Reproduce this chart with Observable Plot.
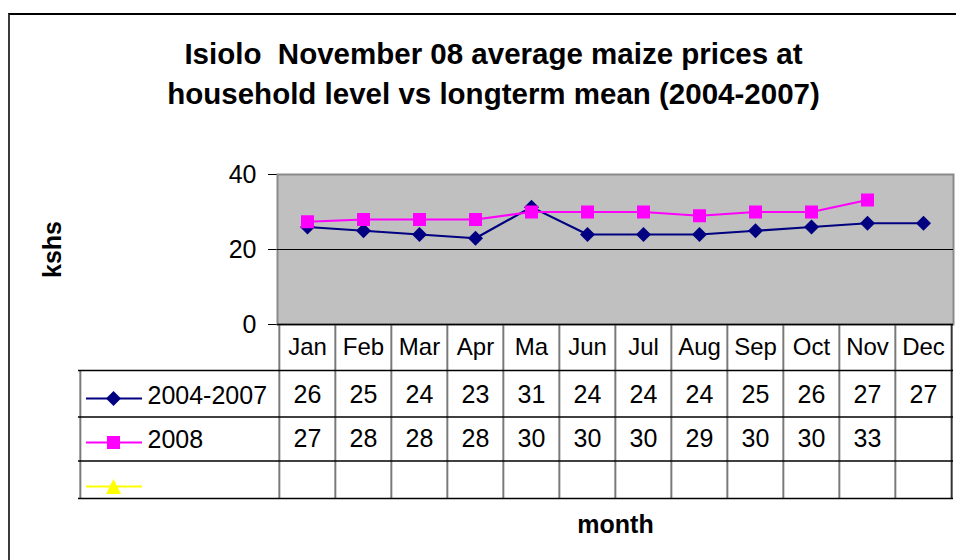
<!DOCTYPE html>
<html>
<head>
<meta charset="utf-8">
<script src="https://cdn.jsdelivr.net/npm/d3@7"></script>
<script src="https://cdn.jsdelivr.net/npm/@observablehq/plot@0.6"></script>
<style>
html, body { margin: 0; padding: 0; background: #fff; }
#wrap { position: relative; width: 956px; height: 560px; overflow: hidden; }
#wrap svg { position: absolute; left: 0; top: 0; }
#box { position: absolute; left: 8px; top: 13px; width: 980px; height: 600px;
       border-top: 2px solid #000; border-left: 2px solid #3a3a3a; pointer-events: none; z-index: 2; }
</style>
</head>
<body>
<div id="wrap"><div id="box"></div></div>
<script>
// ---- data ----
const months = ["Jan", "Feb", "Mar", "Apr", "Ma", "Jun", "Jul", "Aug", "Sep", "Oct", "Nov", "Dec"];
const mean0407 = [26, 25, 24, 23, 31.3, 24, 24, 24, 25, 26, 27, 27];
const y2008 = [27.4, 28, 28, 28, 30, 30, 30, 29, 30, 30, 33.2, null];
const seriesNames = ["2004-2007", "2008", ""];
const seriesColors = ["#000080", "#ff00ff", "#ffff00"];
const yTicks = [0, 20, 40];
const titleLines = ["Isiolo  November 08 average maize prices at", "household level vs longterm mean (2004-2007)"];
const yLabel = "kshs";
const xLabel = "month";

// ---- layout ----
const W = 956, H = 560, ML = 277, MR = 3, MT = 174, MB = 236;
const bw = (W - ML - MR) / months.length;
const fmt = d3.format(".0f");
const rows = months.map((m, i) => ({month: m, a: mean0407[i], b: y2008[i]}));

function sym(fn) { return {draw(ctx, size) { const h = Math.sqrt(size / Math.PI); fn(ctx, h); }}; }
const diamond = sym((c, h) => { c.moveTo(0, -h); c.lineTo(h, 0); c.lineTo(0, h); c.lineTo(-h, 0); c.closePath(); });
const square = sym((c, h) => { c.rect(-h, -h, 2 * h, 2 * h); });
const triangle = sym((c, h) => { c.moveTo(0, -h); c.lineTo(h, h); c.lineTo(-h, h); c.closePath(); });

const font = "'Liberation Sans', Arial, Helvetica, sans-serif";
const gridGray = "#7a7a7a";
const rowLines = [46, 92.5, 136.5, 174];
const legendDy = [74, 118, 162];
const legendTextDy = [71, 115];
const symbols = [diamond, square, triangle];
const symbolR = [7.5, 6.5, 7.5];
const mid = {lineAnchor: "middle"};

const marks = [
  Plot.frame({fill: "#c0c0c0", stroke: "#8a8a8a", strokeWidth: 2}),
  Plot.ruleY([20], {stroke: "#000", strokeWidth: 1}),
  // table grid
  Plot.ruleX(months, {x: d => d, dx: -bw / 2, insetTop: 150, insetBottom: -174, stroke: gridGray, strokeWidth: 2}),
  Plot.ruleX([months[months.length - 1]], {x: d => d, dx: bw / 2, insetTop: 150, insetBottom: -174, stroke: "#333", strokeWidth: 2}),
  Plot.ruleX([months[0]], {x: d => d, dx: -bw / 2 - 199, insetTop: 196, insetBottom: -174, stroke: gridGray, strokeWidth: 2}),
  ...rowLines.map(dy => Plot.ruleY([0], {dy, insetLeft: -199, stroke: "#000", strokeWidth: 1.5})),
  Plot.ruleY([0], {stroke: "#000", strokeWidth: 1.5}),
  // month header + values
  Plot.text(months, {x: d => d, text: d => d, frameAnchor: "bottom", ...mid, dy: 22.5, fontSize: 24}),
  Plot.text(rows, {x: "month", text: d => fmt(d.a), frameAnchor: "bottom", ...mid, dy: 70, fontSize: 25}),
  Plot.text(rows.filter(d => d.b != null), {x: "month", text: d => fmt(d.b), frameAnchor: "bottom", ...mid, dy: 114, fontSize: 25}),
  // data series
  Plot.line(rows, {x: "month", y: "a", stroke: seriesColors[0], strokeWidth: 2.2}),
  Plot.dot(rows, {x: "month", y: "a", symbol: diamond, r: symbolR[0], fill: seriesColors[0], stroke: "none"}),
  Plot.line(rows, {x: "month", y: "b", stroke: seriesColors[1], strokeWidth: 2.2}),
  Plot.dot(rows.filter(d => d.b != null), {x: "month", y: "b", symbol: square, r: symbolR[1], fill: seriesColors[1], stroke: "none"}),
  // legend inside the table
  ...seriesNames.map((name, i) => Plot.ruleY([0], {dy: legendDy[i], insetLeft: -191, insetRight: 811, stroke: seriesColors[i], strokeWidth: 2})),
  ...seriesNames.map((name, i) => Plot.dot([name], {frameAnchor: "bottom-left", dx: -164, dy: legendDy[i], symbol: symbols[i], r: symbolR[i], fill: seriesColors[i], stroke: "none"})),
  ...seriesNames.slice(0, 2).map((name, i) => Plot.text([name], {text: d => d, frameAnchor: "bottom-left", ...mid, dx: -130, dy: legendTextDy[i], textAnchor: "start", fontSize: 25})),
  // axis titles
  Plot.text([yLabel], {text: d => d, frameAnchor: "left", ...mid, textAnchor: "middle", dx: -225, rotate: -90, fontWeight: "bold", fontSize: 25}),
  Plot.text([xLabel], {text: d => d, frameAnchor: "bottom", ...mid, dy: 200, fontWeight: "bold", fontSize: 25}),
  // chart title
  Plot.text([titleLines[0]], {text: d => d, frameAnchor: "top", ...mid, dx: -122, dy: -119.5, fontWeight: "bold", fontSize: 29.5}),
  Plot.text([titleLines[1]], {text: d => d, frameAnchor: "top", ...mid, dx: -122, dy: -79.5, fontWeight: "bold", fontSize: 29.5})
];

const chart = Plot.plot({
  width: W, height: H,
  marginLeft: ML, marginRight: MR, marginTop: MT, marginBottom: MB,
  style: {fontFamily: font, fontSize: "25px", background: "transparent", color: "#000", overflow: "visible"},
  x: {type: "band", domain: months, padding: 0, axis: null},
  y: {domain: [0, 40], ticks: yTicks, tickSize: 9, tickPadding: 12, tickFormat: d => d, label: null},
  marks
});
document.getElementById("wrap").appendChild(chart);
</script>
</body>
</html>
